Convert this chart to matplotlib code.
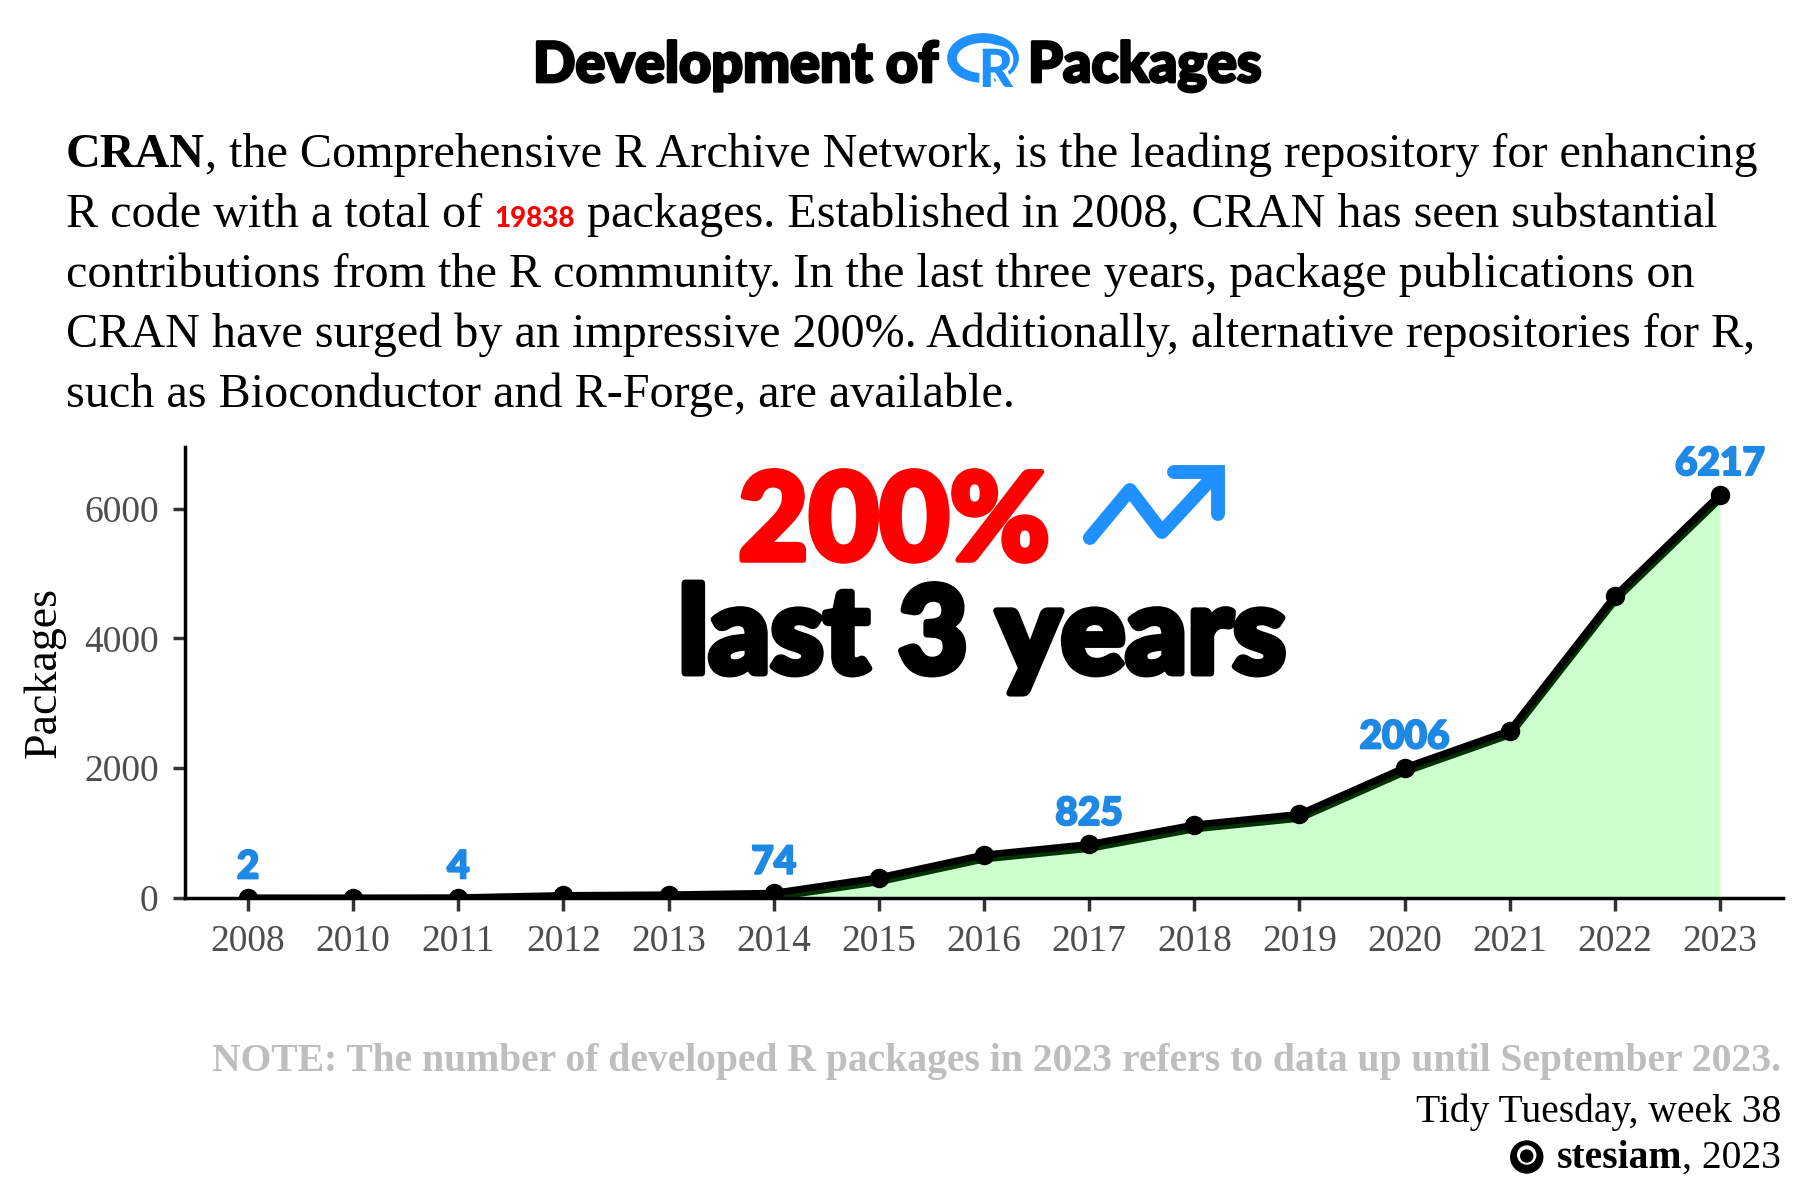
import matplotlib
matplotlib.use("Agg")
import matplotlib.pyplot as plt
import matplotlib.transforms as mtransforms
import matplotlib.patheffects as pe
from matplotlib.patches import Ellipse, Circle
from matplotlib.lines import Line2D

# data
years = ["2008", "2010", "2011", "2012", "2013", "2014", "2015", "2016",
         "2017", "2018", "2019", "2020", "2021", "2022", "2023"]
packages = [2, 1, 4, 39, 49, 74, 312, 663, 825, 1126, 1290, 2006, 2578, 4652, 6217]
labelled_years = ["2008", "2011", "2014", "2017", "2020", "2023"]
y_ticks = [0, 2000, 4000, 6000]

SERIF = ["Liberation Serif", "DejaVu Serif"]
HEAVY = ["Lato", "DejaVu Sans"]
BLUE = "#1E88E5"
ICON_BLUE = "#1E90FF"

plt.rcParams["font.family"] = SERIF

fig = plt.figure(figsize=(18, 12), dpi=100)
# pixel coordinates, origin in the top-left corner of the picture
PX = mtransforms.Affine2D().scale(1 / 1800, -1 / 1200).translate(0, 1) + fig.transFigure
renderer = fig.canvas.get_renderer()


def text_width(s, **kw):
    t = fig.text(0, 0, s, **kw)
    w = t.get_window_extent(renderer).width
    t.remove()
    return w


def advance(s, **kw):
    return text_width("|" + s + "|", **kw) - text_width("||", **kw)


def fit_size(s, target, **kw):
    """font size at which s is `target` pixels wide"""
    kw = dict(kw, size=100)
    return 100 * target / advance(s, **kw)


def thick(color, lw):
    # fattens the heavy display glyphs a little
    return [pe.withStroke(linewidth=lw, foreground=color)]


def rich_line(x, y, pieces, align="left"):
    """Lay out pieces of differently styled text on one baseline.
    A piece (None, gap) leaves an empty gap of `gap` pixels."""
    layout, total = [], 0.0
    for s, kw in pieces:
        if s is None:
            layout.append((None, kw, total))
            total += kw
            continue
        core = s.strip(" ")
        lead = len(s) - len(s.lstrip(" "))
        trail = len(s) - len(s.rstrip(" "))
        sp = advance(" ", **kw) if (lead or trail) else 0
        layout.append((core, kw, total + lead * sp))
        total += (lead + trail) * sp + advance(core, **kw)
    if align == "center":
        x -= total / 2
    elif align == "right":
        x -= total
    starts = []
    for core, kw, off in layout:
        starts.append(x + off)
        if core:
            fig.text(x + off, y, core, transform=PX, va="baseline", ha="left", **kw)
    return starts, total


heavy = dict(family=HEAVY, weight="black")

# ---- title -------------------------------------------------------------
title_kw = dict(heavy, color="black",
                size=fit_size("Development of", 405, **heavy),
                path_effects=thick("black", 2))
starts, _ = rich_line(533, 82, [("Development of", title_kw), (None, 90),
                                ("Packages", title_kw)])
lx = starts[1] + 50
fig.patches.append(Ellipse((lx - 5, 58), 62, 40, transform=PX, fill=False,
                           edgecolor=ICON_BLUE, lw=7))
fig.text(lx + 8, 87, "R", transform=PX, ha="center", va="baseline",
         size=38, color=ICON_BLUE, **heavy,
         path_effects=[pe.withStroke(linewidth=5, foreground="white")])

# ---- subtitle ----------------------------------------------------------
line1 = ", the Comprehensive R Archive Network, is the leading repository for enhancing"
bsize = 100 * 1692 / (advance("CRAN", size=100, weight="bold") + advance(line1, size=100))
body = dict(size=bsize, color="black")
body_b = dict(size=bsize, color="black", weight="bold")
total_txt = f"{sum(packages)}"
red_num = dict(heavy, color="red", size=fit_size(total_txt, 81, **heavy))
sub_lines = [
    [("CRAN", body_b), (line1, body)],
    [("R code with a total of ", body), (total_txt, red_num),
     (" packages. Established in 2008, CRAN has seen substantial", body)],
    [("contributions from the R community. In the last three years, package publications on", body)],
    [("CRAN have surged by an impressive 200%. Additionally, alternative repositories for R,", body)],
    [("such as Bioconductor and R-Forge, are available.", body)],
]
for i, pieces in enumerate(sub_lines):
    rich_line(66, 167 + 60 * i, pieces)

# ---- chart -------------------------------------------------------------
ax = fig.add_axes([185 / 1800, 1 - 898 / 1200, (1783 - 185) / 1800, (898 - 447) / 1200])
x = list(range(len(years)))
ax.fill_between(x, packages, 0, color="#CCFFCC", lw=0, zorder=1)
shadow = mtransforms.offset_copy(ax.transData, fig=fig, x=0, y=-3, units="dots")
ax.plot(x, packages, color="#003300", lw=6.5, transform=shadow, zorder=2)
ax.plot(x, packages, color="black", lw=5, marker="o", ms=13, zorder=3)

lab_size = fit_size("6217", 90, **heavy)
for i, yr in enumerate(years):
    if yr in labelled_years:
        ax.annotate(f"{packages[i]}", (i, packages[i]), xytext=(0, 9),
                    textcoords="offset points", ha="center", va="bottom",
                    size=lab_size, color=BLUE, zorder=4,
                    path_effects=thick(BLUE, 1.5), **heavy)

ax.set_xlim(-0.6, len(years) - 0.4)
ax.set_ylim(0, 6950)
ax.set_xticks(x, years)
ax.set_yticks(y_ticks)
ax.tick_params(labelsize=27, labelcolor="#4D4D4D", length=9, width=2.5,
               color="#333333", pad=10)
for side in ["top", "right"]:
    ax.spines[side].set_visible(False)
for side in ["left", "bottom"]:
    ax.spines[side].set_linewidth(2.5)
    ax.spines[side].set_color("black")

fig.text(44, 673, "Packages", transform=PX, rotation=90, ha="center", va="center",
         size=33, color="black")

# ---- headline inside the panel -------------------------------------------
pct_kw = dict(heavy, color="red", size=fit_size("200%", 312, **heavy),
              path_effects=thick("red", 4))
starts, _ = rich_line(738, 560, [("200%", pct_kw), (None, 34)])
ox, oy = starts[1] + 34 + 6, 538
zig = Line2D([ox, ox + 40, ox + 72, ox + 124], [oy, oy - 48, oy - 6, oy - 62],
             transform=PX, color=ICON_BLUE, lw=10, solid_capstyle="round",
             solid_joinstyle="round")
head = Line2D([ox + 84, ox + 128, ox + 128], [oy - 66, oy - 66, oy - 24],
              transform=PX, color=ICON_BLUE, lw=10, solid_capstyle="round",
              solid_joinstyle="miter")
fig.lines.extend([zig, head])
yrs_kw = dict(heavy, color="black", size=fit_size("last 3 years", 608, **heavy),
              path_effects=thick("black", 5))
rich_line(678, 673, [("last 3 years", yrs_kw)])

# ---- caption -----------------------------------------------------------
note = "NOTE: The number of developed R packages in 2023 refers to data up until September 2023."
csize = fit_size(note, 1570, weight="bold")
rich_line(1781, 1071, [(note, dict(size=csize, weight="bold", color="#BEBEBE"))], align="right")
rich_line(1781, 1122, [("Tidy Tuesday, week 38", dict(size=csize, color="black"))], align="right")
starts, _ = rich_line(1781, 1168, [("stesiam", dict(size=csize, weight="bold", color="black")),
                                   (", 2023", dict(size=csize, color="black"))], align="right")
gx = starts[0] - 30
fig.patches.append(Circle((gx, 1157), 16, transform=PX, color="black"))
fig.patches.append(Circle((gx, 1155), 9, transform=PX, color="white"))
fig.patches.append(Circle((gx, 1156), 6, transform=PX, color="black"))

fig.savefig("out.png", dpi=100)
